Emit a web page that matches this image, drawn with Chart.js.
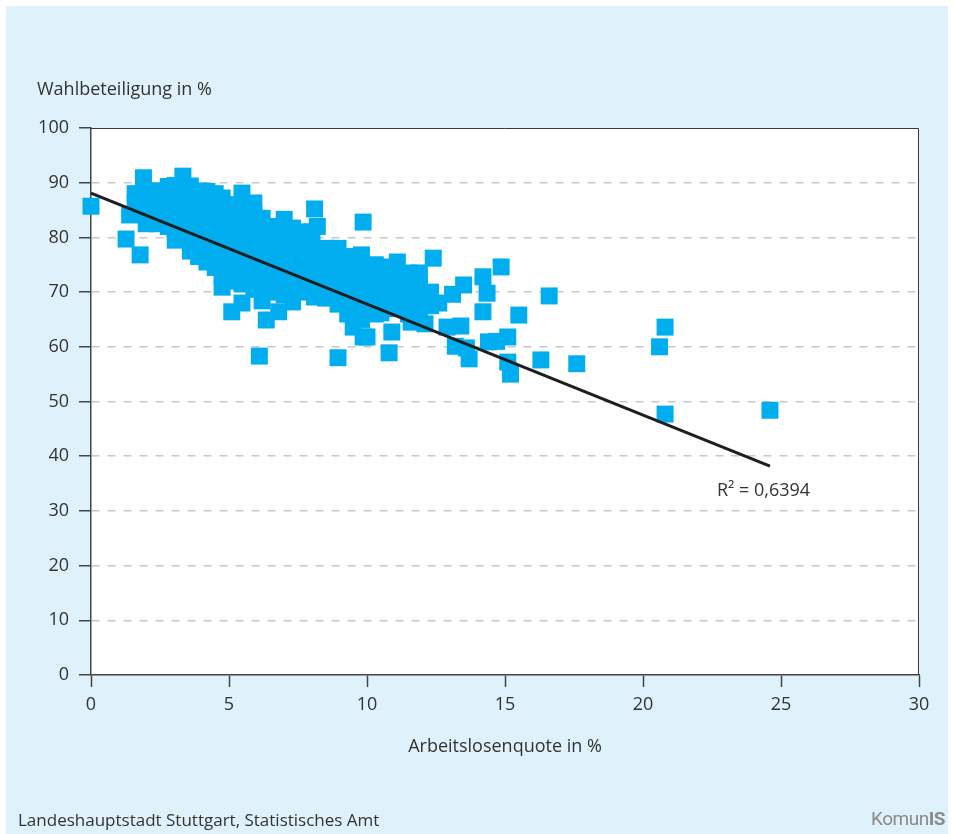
<!DOCTYPE html>
<html>
<head>
<meta charset="utf-8">
<script src="https://cdn.jsdelivr.net/npm/chart.js@4"></script>
<style>
  html, body { margin: 0; padding: 0; background: #ffffff; }
  #wrap { position: relative; width: 954px; height: 834px; overflow: hidden; }
  #bg { position: absolute; left: 6px; top: 6px; width: 942px; height: 828px; background: #dff1fb; }
  #c { position: absolute; left: 0; top: 0; }
  .txt { position: absolute; font-family: "Open Sans", "Noto Sans", sans-serif; color: #333; white-space: nowrap; }
</style>
</head>
<body>
<div id="wrap">
  <div id="bg"></div>
  <canvas id="c" width="954" height="834"></canvas>
  <div class="txt" style="left:37px; top:76px; font-size:18px; line-height:24px;">Wahlbeteiligung in %</div>
  <div class="txt" style="left:717px; top:477px; font-size:18px; line-height:24px;">R² = 0,6394</div>
  <div class="txt" style="left:18px; top:808px; font-size:17px; line-height:24px;">Landeshauptstadt Stuttgart, Statistisches Amt</div>
  <div class="txt" style="right:9px; top:806px; font-size:19px; line-height:26px; color:#8a8a8a; letter-spacing:-0.5px; font-family:'Roboto','Open Sans',sans-serif;">Komun<b>IS</b></div>
</div>
<script>
// Arbeitslosenquote in % (x) and Wahlbeteiligung in % (y), one entry per Stadtteil
const unemployment = [
  0,
  1.27, 1.4, 1.78,
  1.6, 1.6, 1.6,
  1.9, 2.0, 2.0, 2.0, 2.0,
  2.4, 2.4, 2.4, 2.4,
  2.8, 2.8, 2.8, 2.8, 2.8,
  3.05, 3.05, 3.05, 3.05, 3.05, 3.05,
  3.33, 3.33, 3.33, 3.33,
  3.6, 3.6, 3.6, 3.6, 3.6, 3.6, 3.6,
  3.9, 3.9, 3.9, 3.9, 3.9, 3.9, 3.9,
  4.2, 4.2, 4.2, 4.2, 4.2, 4.2, 4.2,
  4.5, 4.5, 4.5, 4.5, 4.5, 4.5, 4.5, 4.5,
  4.75, 4.75, 4.75, 4.75, 4.75, 4.75, 4.75, 4.75, 4.75,
  5.1, 5.1, 5.1, 5.1, 5.1, 5.1, 5.1, 5.1, 5.1,
  5.47, 5.47, 5.47, 5.47, 5.47, 5.47, 5.47, 5.47, 5.47, 5.47,
  5.9, 5.9, 5.9, 5.9, 5.9, 5.9, 5.9, 5.9, 5.9,
  6.2, 6.2, 6.2, 6.2, 6.2, 6.2, 6.2, 6.2,
  6.1, 6.35, 6.8,
  6.6, 6.6, 6.6, 6.6, 6.6, 6.6, 6.6,
  7.0, 7.0, 7.0, 7.0, 7.0, 7.0, 7.0, 7.0,
  7.3, 7.3, 7.3, 7.3, 7.3,
  7.6, 7.6, 7.6, 7.6, 7.6, 7.6, 7.6,
  8.0, 8.0, 8.0, 8.0, 8.0, 8.0,
  8.1, 8.1, 8.2,
  8.5, 8.5, 8.5, 8.5, 8.5, 8.5,
  8.95, 8.95, 8.95, 8.95, 8.95, 8.95, 8.95,
  9.3, 9.3, 9.3, 9.3, 9.3, 9.3,
  9.5, 9.86, 9.86, 10.0,
  9.8, 9.8, 9.8, 9.8, 9.8, 9.8, 9.8,
  10.3, 10.3, 10.3, 10.3, 10.3, 10.3,
  10.5, 10.8, 10.8, 10.8, 10.8, 10.8, 10.9,
  11.1, 11.1, 11.1, 11.1, 11.1,
  11.5, 11.5, 11.5, 11.5, 11.5, 11.6,
  11.9, 11.9, 11.9, 11.9, 12.1, 12.3, 12.3, 12.4, 12.6,
  12.9, 13.1, 13.2, 13.4, 13.5, 13.6, 13.7,
  14.2, 14.2, 14.35, 14.4, 14.7, 14.86,
  15.1, 15.1, 15.2, 15.5, 16.3, 16.6, 17.6,
  20.6, 20.8, 20.8, 24.6
];
const turnout = [
  85.7,
  79.7, 84.1, 76.8,
  84.5, 86.5, 88,
  90.9, 82.5, 84.5, 86.5, 88.5,
  82.5, 84.5, 86.5, 88.5,
  82, 84, 86, 88, 89.3,
  79.5, 81.5, 83.5, 85.5, 87.5, 89.5,
  91.2, 80.5, 84.5, 88,
  77.5, 79.5, 81.5, 83.5, 85.5, 87.5, 89.4,
  76.5, 78.5, 80.5, 82.5, 84.5, 86.5, 88.5,
  75.5, 77.5, 79.5, 81.5, 83.5, 85.5, 88.4,
  74.5, 76.5, 78.5, 80.5, 82.5, 84.5, 86.5, 88,
  70.9, 73, 75, 77, 79, 81, 83, 85, 87.2,
  66.4, 72, 74, 76, 78, 80, 82, 84, 86,
  88.1, 68, 71.5, 73.5, 75.5, 77.5, 79.5, 81.5, 83.5, 85.5,
  86.3, 70.5, 72.5, 74.5, 76.5, 78.5, 80.5, 82.5, 84.5,
  68.4, 71, 73, 75, 77, 79, 81, 83.5,
  58.3, 64.9, 66.4,
  70, 72, 74, 76, 78, 80, 82,
  69.5, 71.5, 73.5, 75.5, 77.5, 79.5, 81.5, 83.3,
  68.2, 70.5, 74, 78, 81.7,
  70, 72, 74, 76, 78, 80, 81,
  71.5, 73.5, 75.5, 77.5, 79.5, 81,
  69.1, 85.2, 82,
  68.9, 71, 73, 75, 77, 78,
  58, 67.8, 70, 72, 74, 76, 78,
  66, 68.5, 70.5, 72.5, 74.5, 76.5,
  63.6, 82.8, 61.8, 61.8,
  65, 67, 69, 71, 73, 75, 76.8,
  66, 68, 70, 72, 74, 75,
  66.2, 74.6, 58.9, 68.5, 70.5, 72.5, 62.7,
  75.5, 67, 69.5, 71.5, 73.5,
  66, 68, 70, 72, 73.5, 64.5,
  73.5, 67, 69.5, 71.5, 64.2, 67.5, 70, 76.2, 68,
  63.6, 69.6, 60.1, 63.8, 71.3, 59.8, 57.8,
  72.8, 66.4, 69.8, 60.9, 61, 74.6,
  61.8, 57.2, 55, 65.8, 57.6, 69.3, 56.9,
  60, 63.6, 47.7, 48.4
];
// Linear trend line (R² = 0,6394) endpoints
const trendX = [0, 24.6];
const trendY = [88.1, 38.2];
// Axis ticks
const xTicks = [0, 5, 10, 15, 20, 25, 30];
const yTicks = [0, 10, 20, 30, 40, 50, 60, 70, 80, 90, 100];

const points = unemployment.map((x, i) => ({ x: x, y: turnout[i] }));
const trend = trendX.map((x, i) => ({ x: x, y: trendY[i] }));

const FONT = '"Open Sans", "Noto Sans", sans-serif';
const TXT = '#333333';

const frame = {
  id: 'frame',
  beforeDraw(chart) {
    const a = chart.chartArea, ctx = chart.ctx;
    ctx.save();
    ctx.fillStyle = '#ffffff';
    ctx.fillRect(a.left, a.top, a.right - a.left, a.bottom - a.top);
    ctx.restore();
  },
  afterDraw(chart) {
    const a = chart.chartArea, ctx = chart.ctx;
    ctx.save();
    ctx.strokeStyle = '#3a3a3a';
    ctx.lineWidth = 1;
    ctx.beginPath();
    ctx.moveTo(a.left, a.top + 0.5);
    ctx.lineTo(a.right - 0.5, a.top + 0.5);
    ctx.lineTo(a.right - 0.5, a.bottom);
    ctx.stroke();
    ctx.restore();
  }
};

new Chart(document.getElementById('c'), {
  type: 'scatter',
  data: {
    datasets: [
      {
        type: 'line',
        data: trend,
        borderColor: '#1e1e1e',
        borderWidth: 3,
        pointRadius: 0,
        fill: false,
        order: 0
      },
      {
        data: points,
        pointStyle: 'rect',
        pointRadius: 12,
        pointHoverRadius: 12,
        pointBorderWidth: 0,
        backgroundColor: '#00aeef',
        borderColor: '#00aeef',
        clip: false,
        order: 1
      }
    ]
  },
  plugins: [frame],
  options: {
    responsive: false,
    animation: false,
    events: [],
    layout: { padding: { left: 0, top: 128, right: 35, bottom: 0 } },
    plugins: { legend: { display: false }, tooltip: { enabled: false }, title: { display: false } },
    scales: {
      x: {
        type: 'linear',
        min: 0, max: 30,
        afterFit(s) { s.height = 159; },
        afterBuildTicks(s) { s.ticks = xTicks.map(v => ({ value: v })); },
        border: { display: true, color: '#444444', width: 1.5 },
        grid: { drawOnChartArea: false, drawTicks: true, tickLength: 12, tickColor: '#444444', tickWidth: 1.5 },
        ticks: { color: TXT, font: { family: FONT, size: 18 }, padding: 7, maxRotation: 0 },
        title: { display: true, text: 'Arbeitslosenquote in %', color: TXT, font: { family: FONT, size: 18 }, padding: { top: 0, bottom: 76 } }
      },
      y: {
        type: 'linear',
        min: 0, max: 100,
        afterFit(s) { s.width = 91; },
        afterBuildTicks(s) { s.ticks = yTicks.map(v => ({ value: v })); },
        border: { display: true, color: '#444444', width: 1.5, dash: [8, 8] },
        grid: {
          drawOnChartArea: true, drawTicks: true, tickLength: 12,
          color: (ctx) => (ctx.tick && (ctx.tick.value === 0 || ctx.tick.value === 100)) ? 'rgba(0,0,0,0)' : '#c8c8c8',
          lineWidth: 1.5,
          tickColor: '#444444', tickWidth: 1.5, tickBorderDash: []
        },
        ticks: { color: TXT, font: { family: FONT, size: 18 }, padding: 10 }
      }
    }
  }
});
</script>
</body>
</html>
